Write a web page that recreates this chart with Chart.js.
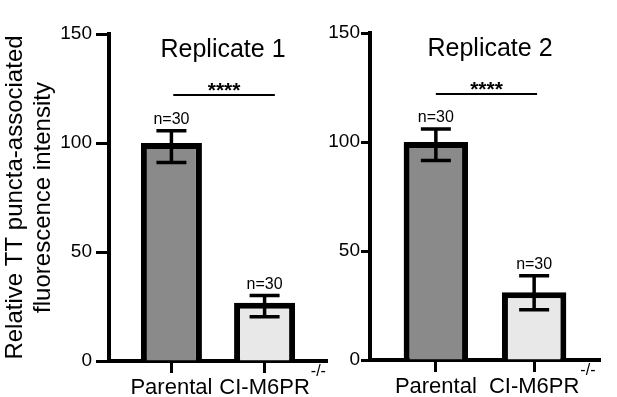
<!DOCTYPE html>
<html>
<head>
<meta charset="utf-8">
<script src="https://cdn.jsdelivr.net/npm/chart.js@4"></script>
<style>
  body { margin: 0; background: #fff; }
  #wrap { position: relative; width: 617px; height: 397px; overflow: hidden; }
  canvas { position: absolute; top: 0; }
</style>
</head>
<body>
<div id="wrap">
  <canvas id="rep1" width="345" height="397" style="left:0"></canvas>
  <canvas id="rep2" width="317" height="397" style="left:300px"></canvas>
</div>
<script>
// values
const categories = ['Parental', 'CI-M6PR'];
const categorySup = ['', '-/-'];
const nLabels = ['n=30', 'n=30'];
const titles = ['Replicate 1', 'Replicate 2'];
const yTitle = ['Relative TT puncta-associated', 'fluorescence intensity'];
const sigLabel = '****';

const rep1Mean = [100, 26.7];
const rep1Upper = [105.6, 30.0];
const rep1Lower = [91.1, 20.3];
const rep1Sig = [0.02, 1.11]; // bracket span, in category units

const rep2Mean = [100, 31.1];
const rep2Upper = [106.0, 38.7];
const rep2Lower = [91.5, 23.0];
const rep2Sig = [0.0, 1.03];

const sigY = 122;
const yMin = 0, yMax = 150, yStep = 50;

const barColors = ['#8a8a8a', '#e8e8e8'];
const FONT = '"Liberation Sans", Arial, Helvetica, sans-serif';
const X_FONT = 22;

Chart.defaults.font.family = FONT;
Chart.defaults.color = '#000';

// error bars, n labels, significance bracket, panel title
const extras = {
  id: 'extras',
  afterDatasetsDraw(chart, args, opts) {
    const { ctx, chartArea } = chart;
    const x = chart.scales.x, y = chart.scales.y;
    const meta = chart.getDatasetMeta(0);
    ctx.save();
    ctx.strokeStyle = '#000';
    ctx.fillStyle = '#000';
    ctx.textAlign = 'center';
    ctx.textBaseline = 'alphabetic';

    meta.data.forEach((bar, i) => {
      const yt = y.getPixelForValue(opts.upper[i]);
      const yb = y.getPixelForValue(opts.lower[i]);
      ctx.lineWidth = 3.5;
      ctx.beginPath();
      ctx.moveTo(bar.x, yt); ctx.lineTo(bar.x, yb);
      ctx.moveTo(bar.x - 15, yt); ctx.lineTo(bar.x + 15, yt);
      ctx.moveTo(bar.x - 15, yb); ctx.lineTo(bar.x + 15, yb);
      ctx.stroke();
      ctx.font = '16px ' + FONT;
      ctx.fillText(nLabels[i], bar.x, yt - 7);
    });

    const sy = y.getPixelForValue(sigY);
    const x0 = x.getPixelForValue(opts.sig[0]);
    const x1 = x.getPixelForValue(opts.sig[1]);
    ctx.lineWidth = 2;
    ctx.beginPath();
    ctx.moveTo(x0, sy); ctx.lineTo(x1, sy);
    ctx.stroke();
    ctx.font = 'bold 21px ' + FONT;
    ctx.fillText(sigLabel, (x0 + x1) / 2, sy + 2);

    ctx.font = '25px ' + FONT;
    ctx.fillText(opts.title, (chartArea.left + chartArea.right) / 2 + 5, chartArea.top + 23);
    ctx.restore();
  },
  afterDraw(chart) {
    // superscript after the knockout label
    const { ctx } = chart;
    const x = chart.scales.x;
    ctx.save();
    ctx.fillStyle = '#000';
    categories.forEach((c, i) => {
      if (!categorySup[i]) return;
      ctx.font = X_FONT + 'px ' + FONT;
      const w = ctx.measureText(c).width;
      const px = x.getPixelForValue(i) + w / 2 + 1;
      ctx.font = '16px ' + FONT;
      ctx.textAlign = 'left';
      ctx.textBaseline = 'alphabetic';
      ctx.fillText(categorySup[i], px, x.top + 15);
    });
    ctx.restore();
  }
};

function makeChart(id, means, upper, lower, sig, title, cfg) {
  return new Chart(document.getElementById(id), {
    type: 'bar',
    data: {
      datasets: [{
        data: means.map((v, i) => ({ x: i, y: v })),
        backgroundColor: barColors,
        borderColor: '#000',
        borderWidth: 6,
        barPercentage: 0.655,
        categoryPercentage: 1
      }]
    },
    options: {
      responsive: false,
      animation: false,
      devicePixelRatio: 1,
      layout: { padding: cfg.padding },
      plugins: {
        legend: { display: false },
        tooltip: { enabled: false },
        extras: { upper, lower, sig, title }
      },
      scales: {
        x: {
          type: 'linear',
          min: -0.67,
          max: 1.67,
          offset: false,
          z: 1,
          afterBuildTicks: s => { s.ticks = categories.map((c, i) => ({ value: i })); },
          afterFit: s => { s.height = cfg.xHeight; },
          grid: { offset: false, drawOnChartArea: false, tickLength: 12, tickWidth: 3, tickColor: '#000' },
          border: { display: true, color: '#000', width: 4 },
          ticks: {
            padding: 2,
            maxRotation: 0,
            font: { size: X_FONT },
            callback: v => categories[v] ?? ''
          }
        },
        y: {
          min: yMin,
          max: yMax,
          z: 1,
          afterFit: s => { s.width = cfg.yWidth; },
          grid: { drawOnChartArea: false, tickLength: cfg.tickLength, tickWidth: 3, tickColor: '#000' },
          border: { display: true, color: '#000', width: 4 },
          ticks: { stepSize: yStep, padding: cfg.tickPad, font: { size: 19 } },
          title: {
            display: cfg.showTitle,
            text: yTitle,
            font: { size: 24, lineHeight: 1.15 },
            padding: { top: 2, bottom: 0 }
          }
        }
      }
    },
    plugins: [extras]
  });
}

makeChart('rep1', rep1Mean, rep1Upper, rep1Lower, rep1Sig, titles[0], {
  padding: { top: 34, right: 18, bottom: 0, left: 0 },
  xHeight: 36, yWidth: 109, tickLength: 13, tickPad: 4, showTitle: true
});
makeChart('rep2', rep2Mean, rep2Upper, rep2Lower, rep2Sig, titles[1], {
  padding: { top: 33, right: 17, bottom: 0, left: 0 },
  xHeight: 37, yWidth: 70, tickLength: 9, tickPad: 1, showTitle: false
});
</script>
</body>
</html>
